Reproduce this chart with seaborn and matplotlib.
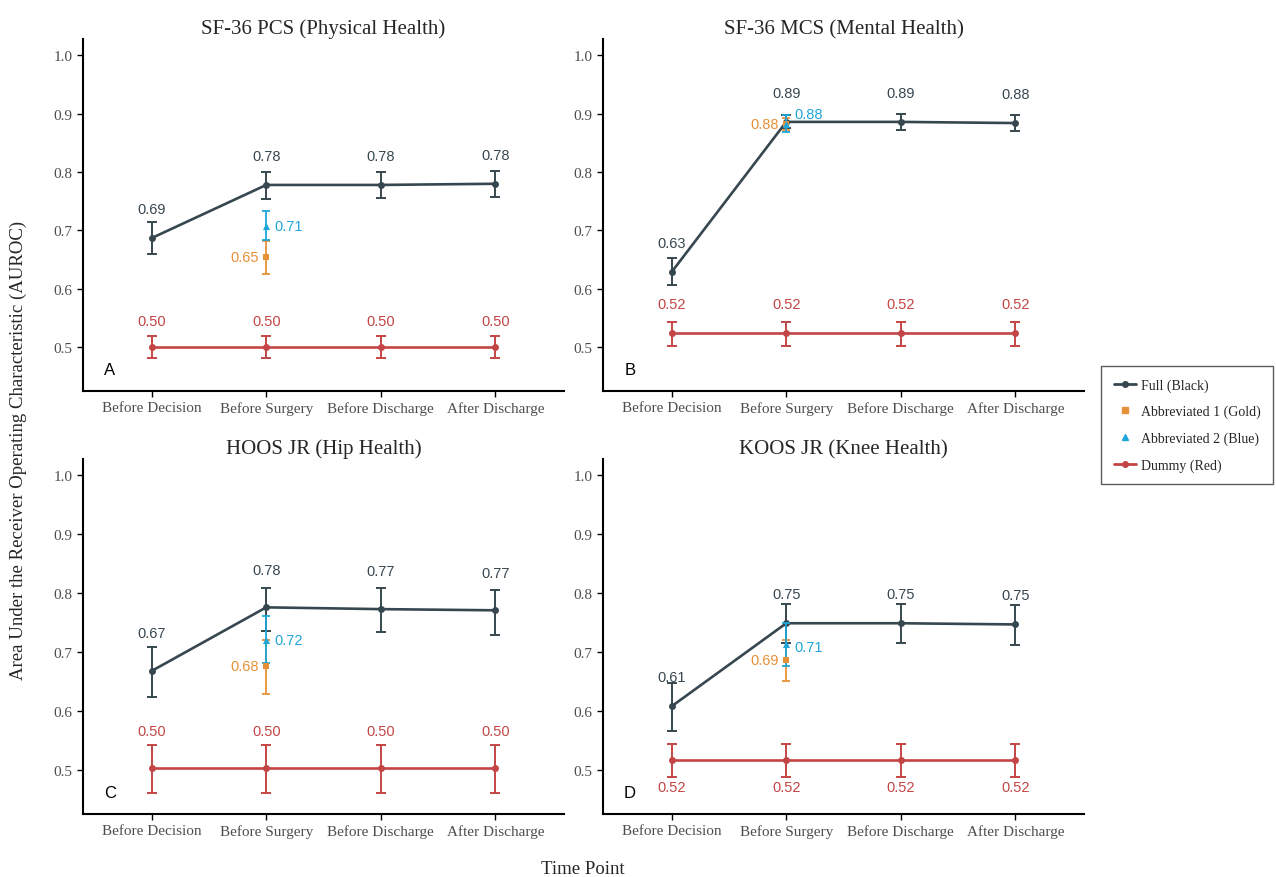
import matplotlib
matplotlib.use('Agg')
import matplotlib.pyplot as plt
import seaborn as sns
import pandas as pd
from matplotlib.lines import Line2D

sns.set_style('white')
plt.rcParams['font.family'] = ['Liberation Serif', 'DejaVu Serif']

time_points = ["Before Decision", "Before Surgery", "Before Discharge", "After Discharge"]
panel_titles = ["SF-36 PCS (Physical Health)", "SF-36 MCS (Mental Health)",
                "HOOS JR (Hip Health)", "KOOS JR (Knee Health)"]
panel_letters = ["A", "B", "C", "D"]

# Full model AUROC with 95% CI, one row per panel
full_auc = [[0.687, 0.778, 0.778, 0.780],
            [0.629, 0.886, 0.886, 0.884],
            [0.668, 0.776, 0.773, 0.771],
            [0.608, 0.749, 0.749, 0.747]]
full_lo = [[0.660, 0.754, 0.756, 0.758],
           [0.607, 0.876, 0.872, 0.871],
           [0.623, 0.736, 0.734, 0.729],
           [0.566, 0.716, 0.715, 0.712]]
full_hi = [[0.715, 0.800, 0.800, 0.802],
           [0.652, 0.898, 0.899, 0.898],
           [0.709, 0.809, 0.809, 0.806],
           [0.647, 0.782, 0.782, 0.780]]

# Dummy model (same at every time point)
dummy_auc = [0.500, 0.524, 0.503, 0.517]
dummy_lo = [0.481, 0.502, 0.460, 0.488]
dummy_hi = [0.520, 0.543, 0.542, 0.544]

# Abbreviated models, only at "Before Surgery"
abbr1_auc = [0.654, 0.882, 0.676, 0.687]
abbr1_lo = [0.625, 0.872, 0.628, 0.651]
abbr1_hi = [0.682, 0.893, 0.720, 0.721]
abbr2_auc = [0.708, 0.883, 0.720, 0.713]
abbr2_lo = [0.683, 0.869, 0.681, 0.677]
abbr2_hi = [0.734, 0.897, 0.761, 0.749]

full_label_dy = [0.050, 0.050, 0.064, 0.050]
dummy_label_dy = [0.045, 0.050, 0.063, -0.046]
abbr2_label_dy = [0.0, 0.017, 0.0, -0.004]

C_FULL = '#37474F'
C_GOLD = '#E69138'
C_BLUE = '#1FA6D8'
C_RED = '#C44545'
TICK_C = '#4D4D4D'

fig = plt.figure(figsize=(12.76, 8.78), dpi=100)
W, H = 1276, 878
boxes = [(83, 40, 564, 392), (603, 40, 1084, 392),
         (83, 460, 564, 815), (603, 460, 1084, 815)]

xs = list(range(len(time_points)))
for i, (x0, y0, x1, y1) in enumerate(boxes):
    ax = fig.add_axes([x0 / W, 1 - y1 / H, (x1 - x0) / W, (y1 - y0) / H])
    df_full = pd.DataFrame({'x': xs, 'auc': full_auc[i]})
    df_dummy = pd.DataFrame({'x': xs, 'auc': [dummy_auc[i]] * 4})

    # dummy
    ax.errorbar(xs, df_dummy['auc'], yerr=[[dummy_auc[i] - dummy_lo[i]] * 4, [dummy_hi[i] - dummy_auc[i]] * 4],
                fmt='none', ecolor=C_RED, elinewidth=1.4, capsize=3.5, capthick=1.4, zorder=2)
    sns.lineplot(data=df_dummy, x='x', y='auc', ax=ax, color=C_RED, lw=1.9, marker='o',
                 markersize=5, markeredgewidth=0, zorder=3)
    # full
    ax.errorbar(xs, full_auc[i], yerr=[[a - l for a, l in zip(full_auc[i], full_lo[i])],
                                       [h - a for a, h in zip(full_auc[i], full_hi[i])]],
                fmt='none', ecolor=C_FULL, elinewidth=1.4, capsize=3.5, capthick=1.4, zorder=2)
    sns.lineplot(data=df_full, x='x', y='auc', ax=ax, color=C_FULL, lw=1.9, marker='o',
                 markersize=5, markeredgewidth=0, zorder=3)
    # abbreviated
    ax.errorbar([1], [abbr1_auc[i]], yerr=[[abbr1_auc[i] - abbr1_lo[i]], [abbr1_hi[i] - abbr1_auc[i]]],
                fmt='none', ecolor=C_GOLD, elinewidth=1.3, capsize=3, capthick=1.3, zorder=4)
    ax.errorbar([1], [abbr2_auc[i]], yerr=[[abbr2_auc[i] - abbr2_lo[i]], [abbr2_hi[i] - abbr2_auc[i]]],
                fmt='none', ecolor=C_BLUE, elinewidth=1.3, capsize=3, capthick=1.3, zorder=5)
    sns.scatterplot(x=[1], y=[abbr1_auc[i]], ax=ax, color=C_GOLD, marker='s', s=22,
                    linewidth=0, zorder=6)
    sns.scatterplot(x=[1], y=[abbr2_auc[i]], ax=ax, color=C_BLUE, marker='^', s=26,
                    linewidth=0, zorder=7)

    # value labels
    for x, v in zip(xs, full_auc[i]):
        ax.text(x, v + full_label_dy[i], f"{v:.2f}", color=C_FULL, ha='center', va='center',
                fontsize=10.5, family='Liberation Sans')
        ax.text(x, dummy_auc[i] + dummy_label_dy[i], f"{dummy_auc[i]:.2f}", color=C_RED,
                ha='center', va='center', fontsize=10.5, family='Liberation Sans')
    ax.text(1 - 0.06, abbr1_auc[i], f"{abbr1_auc[i]:.2f}", color=C_GOLD, ha='right',
            va='center', fontsize=10.5, family='Liberation Sans')
    ax.text(1 + 0.07, abbr2_auc[i] + abbr2_label_dy[i], f"{abbr2_auc[i]:.2f}", color=C_BLUE,
            ha='left', va='center', fontsize=10.5, family='Liberation Sans')

    ax.text(0.056, 0.06, panel_letters[i], transform=ax.transAxes, fontsize=12,
            family='Liberation Sans', ha='center', va='center', color='black')

    ax.set_xlim(-0.6, 3.6)
    ax.set_ylim(0.425, 1.028)
    ax.set_yticks([0.5, 0.6, 0.7, 0.8, 0.9, 1.0])
    ax.set_yticklabels(["0.5", "0.6", "0.7", "0.8", "0.9", "1.0"])
    ax.set_xticks(xs)
    ax.set_xticklabels(time_points)
    ax.tick_params(axis='both', colors='black', labelcolor=TICK_C, labelsize=11,
                   length=4, width=1, direction='out', bottom=True, left=True)
    ax.set_xlabel('')
    ax.set_ylabel('')
    ax.set_title(panel_titles[i], fontsize=15, pad=4)
    sns.despine(ax=ax)
    for s in ['left', 'bottom']:
        ax.spines[s].set_color('black')
        ax.spines[s].set_linewidth(1.5)

fig.text(18 / W, 1 - 450 / H, "Area Under the Receiver Operating Characteristic (AUROC)",
         rotation=90, ha='center', va='center', fontsize=13.5)
fig.text(583 / W, 1 - 870 / H, "Time Point", ha='center', va='center', fontsize=13.5)

handles = [Line2D([], [], color=C_FULL, lw=2, marker='o', markersize=4),
           Line2D([], [], color=C_GOLD, lw=0, marker='s', markersize=4),
           Line2D([], [], color=C_BLUE, lw=0, marker='^', markersize=5),
           Line2D([], [], color=C_RED, lw=2, marker='o', markersize=4)]
labels = ["Full (Black)", "Abbreviated 1 (Gold)", "Abbreviated 2 (Blue)", "Dummy (Red)"]
leg = fig.legend(handles, labels, loc='center left', bbox_to_anchor=(1101 / W, 1 - 426 / H),
                 frameon=True, fancybox=False, edgecolor='#333333', fontsize=10,
                 handlelength=1.6, handletextpad=0.35, labelspacing=0.95, borderpad=0.9,
                 borderaxespad=0)
leg.get_frame().set_linewidth(1)

fig.savefig('out.png', dpi=100)
